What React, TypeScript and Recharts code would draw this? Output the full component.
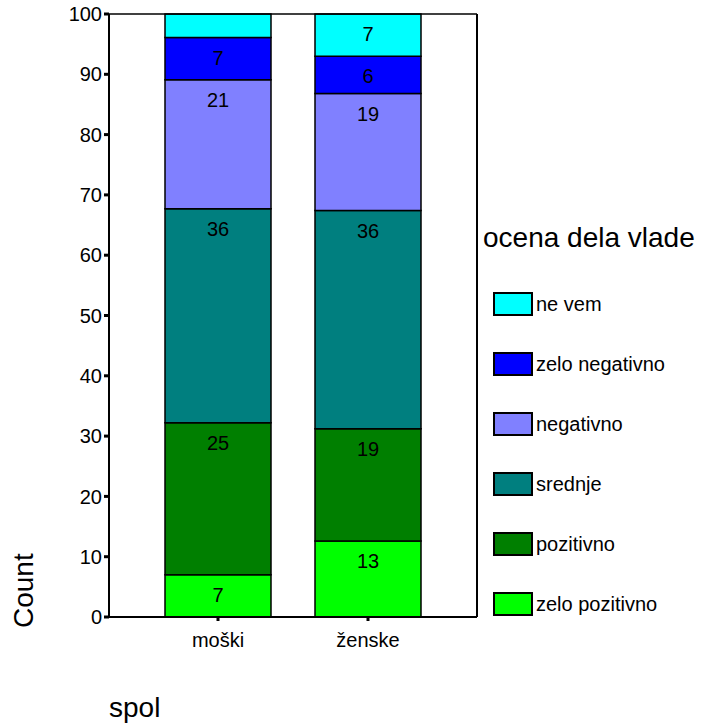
import React from 'react'
import {
  BarChart,
  Bar,
  XAxis,
  YAxis,
  Legend,
  LabelList,
  ReferenceLine,
} from 'recharts'

const categories = ['moški', 'ženske']
const zeloPozitivno = [7.0, 12.6]
const pozitivno = [25.2, 18.6]
const srednje = [35.5, 36.2]
const negativno = [21.4, 19.4]
const zeloNegativno = [7.0, 6.2]
const neVem = [3.9, 7.0]
const yTicks = [0, 10, 20, 30, 40, 50, 60, 70, 80, 90, 100]

const series = [
  { key: 'zeloPozitivno', name: 'zelo pozitivno', values: zeloPozitivno, color: '#00ff00' },
  { key: 'pozitivno', name: 'pozitivno', values: pozitivno, color: '#007f00' },
  { key: 'srednje', name: 'srednje', values: srednje, color: '#007f7f' },
  { key: 'negativno', name: 'negativno', values: negativno, color: '#8080ff' },
  { key: 'zeloNegativno', name: 'zelo negativno', values: zeloNegativno, color: '#0000ff' },
  { key: 'neVem', name: 'ne vem', values: neVem, color: '#00ffff' },
]

const data = categories.map((spol, i) => {
  const row: Record<string, string | number> = { spol }
  series.forEach((s) => {
    row[s.key] = s.values[i]
  })
  return row
})

// small segments carry no label, the rest are rounded
const fmt = (v: any) => (Number(v) < 5 ? '' : String(Math.round(Number(v))))

function renderLegend(props: any) {
  const payload = props.payload || []
  // stack order, top segment first
  const items = [...series].reverse().map((s) => {
    const p = payload.find((e: any) => e.dataKey === s.key)
    return { value: p ? p.value : s.name, color: p ? p.color : s.color }
  })
  return (
    <div style={{ fontFamily: 'Liberation Sans, Arial, sans-serif', color: '#000' }}>
      <div style={{ fontSize: 28, lineHeight: '32px', whiteSpace: 'nowrap' }}>ocena dela vlade</div>
      {items.map((it, i) => (
        <div
          key={it.value}
          style={{
            display: 'flex',
            alignItems: 'center',
            height: 24,
            marginTop: i === 0 ? 38 : 36,
            marginLeft: 10,
          }}
        >
          <div
            style={{
              width: 40,
              height: 24,
              boxSizing: 'border-box',
              border: '2px solid #000',
              background: it.color,
            }}
          />
          <span style={{ fontSize: 20, marginLeft: 3, whiteSpace: 'nowrap' }}>{it.value}</span>
        </div>
      ))}
    </div>
  )
}

export default function App() {
  return (
    <div
      style={{
        position: 'absolute',
        left: 0,
        top: 0,
        width: 703,
        height: 727,
        background: '#fff',
        fontFamily: 'Liberation Sans, Arial, sans-serif',
      }}
    >
      <BarChart
        width={703}
        height={727}
        data={data}
        margin={{ top: 14, right: 225, bottom: 10, left: 44 }}
      >
        <XAxis
          dataKey="spol"
          height={100}
          padding={{ left: 34, right: 34 }}
          axisLine={{ stroke: '#000', strokeWidth: 2 }}
          tickLine={{ stroke: '#000', strokeWidth: 3 }}
          tickSize={4}
          tickMargin={12}
          tick={{ fontSize: 20, fill: '#000' }}
          label={{ value: 'spol', position: 'insideBottomLeft', offset: 0, fontSize: 28, fill: '#000' }}
        />
        <YAxis
          width={65}
          domain={[0, 100]}
          ticks={yTicks}
          interval={0}
          axisLine={{ stroke: '#000', strokeWidth: 2 }}
          tickLine={{ stroke: '#000', strokeWidth: 3 }}
          tickSize={5}
          tick={{ fontSize: 20, fill: '#000' }}
          label={{
            value: 'Count',
            angle: -90,
            position: 'insideBottomLeft',
            offset: -11,
            fontSize: 28,
            fill: '#000',
          }}
        />
        <YAxis
          yAxisId="right"
          orientation="right"
          width={1}
          domain={[0, 100]}
          tick={false}
          tickLine={false}
          axisLine={{ stroke: '#000', strokeWidth: 2 }}
        />
        <ReferenceLine y={100} stroke="#000" strokeWidth={1.5} />
        <Legend
          layout="horizontal"
          verticalAlign="middle"
          align="center"
          content={renderLegend}
          wrapperStyle={{ left: 483, top: 222, width: 220, height: 420 }}
        />
        {series.map((s) => (
          <Bar
            key={s.key}
            dataKey={s.key}
            name={s.name}
            stackId="a"
            fill={s.color}
            stroke="#000"
            strokeWidth={1.5}
            barSize={106}
            isAnimationActive={false}
          >
            <LabelList
              dataKey={s.key}
              position="insideTop"
              offset={13}
              formatter={fmt}
              style={{ fontSize: 20, fill: '#000' }}
            />
          </Bar>
        ))}
      </BarChart>
    </div>
  )
}
